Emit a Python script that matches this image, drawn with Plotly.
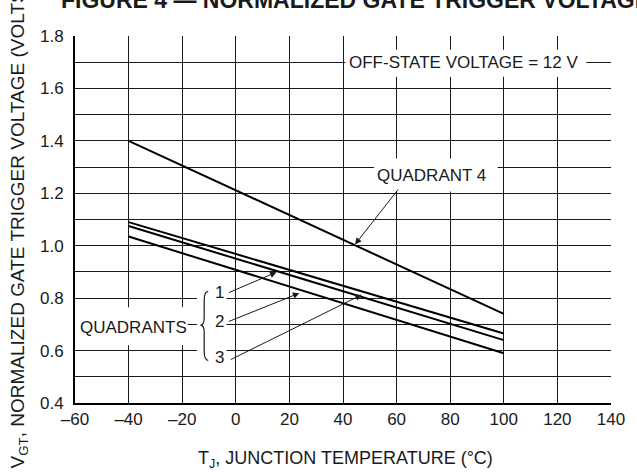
import plotly.graph_objects as go

# data (junction temperature in degC, normalized V_GT)
temps = [-40, 100]
quadrant_4 = [1.40, 0.74]
quadrant_1 = [1.09, 0.665]
quadrant_2 = [1.075, 0.64]
quadrant_3 = [1.035, 0.59]

x_ticks = [-60, -40, -20, 0, 20, 40, 60, 80, 100, 120, 140]
x_labels = ["\u201360", "\u201340", "\u201320", "0", "20", "40", "60", "80", "100", "120", "140"]
y_ticks = [0.4, 0.6, 0.8, 1.0, 1.2, 1.4, 1.6, 1.8]
y_labels = ["0.4", "0.6", "0.8", "1.0", "1.2", "1.4", "1.6", "1.8"]

FONT = "Liberation Sans, Arial, sans-serif"
INK = "#1a1a1a"

fig = go.Figure()
for ys in [quadrant_4, quadrant_1, quadrant_2, quadrant_3]:
    fig.add_trace(
        go.Scatter(
            x=temps, y=ys, mode="lines",
            line={"color": "black", "width": 2},
            showlegend=False, hoverinfo="skip",
        )
    )

# white boxes that break the grid behind the labels
boxes = [
    (40.9, 130.8, 1.645, 1.748),   # off-state voltage
    (51.6, 97.7, 1.207, 1.333),    # quadrant 4
    (-60, -18, 0.62, 0.765),       # quadrants
    (-14.5, -3.5, 0.55, 0.84),     # brace + 1/2/3
]
for x0, x1, y0, y1 in boxes:
    fig.add_shape(
        type="rect", xref="x", yref="y", x0=x0, x1=x1, y0=y0, y1=y1,
        fillcolor="white", line={"width": 0}, layer="between",
    )

# curly brace
fig.add_shape(
    type="path", xref="x", yref="y", layer="above",
    path=(
        "M -10.3,0.826 Q -11.8,0.826 -11.8,0.79 L -11.8,0.725 "
        "Q -11.8,0.697 -13.2,0.697 Q -11.8,0.697 -11.8,0.669 "
        "L -11.8,0.60 Q -11.8,0.5625 -10.3,0.5625"
    ),
    line={"color": INK, "width": 1.2},
)

txt = {"family": FONT, "size": 17, "color": INK}
labels = [
    ("OFF-STATE VOLTAGE = 12 V", 85, 1.7),
    ("QUADRANT 4", 73, 1.268),
    ("QUADRANTS", -38, 0.688),
    ("1", -6.1, 0.823),
    ("2", -6.1, 0.712),
    ("3", -6.1, 0.575),
]
for t, x, y in labels:
    fig.add_annotation(x=x, y=y, text=t, showarrow=False, font=txt)

# leader arrows: (tail x, tail y, head x, head y)
arrows = [
    (61, 1.22, 44.5, 1.005),
    (-3.1, 0.819, 15.2, 0.899),
    (-3.1, 0.709, 23.7, 0.819),
    (-2.5, 0.5625, 47, 0.813),
]
for ax, ay, x, y in arrows:
    fig.add_annotation(
        x=x, y=y, ax=ax, ay=ay, xref="x", yref="y", axref="x", ayref="y",
        text="", showarrow=True, arrowhead=2, arrowsize=1.3,
        arrowwidth=1, arrowcolor=INK, standoff=0,
    )

# axis titles and heading
fig.add_annotation(
    xref="paper", yref="paper", x=0.504, y=-0.154, xanchor="center", yanchor="middle",
    text="T<sub>J</sub>, JUNCTION TEMPERATURE (\u00b0C)", showarrow=False,
    font={"family": FONT, "size": 18, "color": INK},
)
fig.add_annotation(
    xref="paper", yref="paper", x=-0.104, xanchor="center", y=-0.183, yanchor="bottom",
    text="V<sub>GT</sub>, NORMALIZED GATE TRIGGER VOLTAGE (VOLTS)",
    textangle=-90, showarrow=False,
    font={"family": FONT, "size": 19, "color": INK},
)
fig.add_annotation(
    xref="paper", yref="paper", x=-0.029, xanchor="left", y=1.057, yanchor="bottom",
    text="<b>FIGURE 4 \u2014 NORMALIZED GATE TRIGGER VOLTAGE</b>", showarrow=False,
    font={"family": FONT, "size": 23, "color": INK},
)

fig.update_xaxes(
    range=[-60, 140], tickvals=x_ticks, ticktext=x_labels,
    showgrid=True, gridcolor=INK, gridwidth=1,
    showline=True, linecolor="black", linewidth=2, zeroline=False,
    ticks="", ticklabelstandoff=0,
    tickfont={"family": FONT, "size": 17, "color": INK},
)
fig.update_yaxes(
    range=[0.4, 1.8], tickvals=y_ticks, ticktext=y_labels,
    showgrid=True, gridcolor=INK, gridwidth=1,
    minor={"dtick": 0.1, "showgrid": True, "gridcolor": INK, "gridwidth": 1},
    showline=True, linecolor="black", linewidth=2, zeroline=False,
    ticks="", ticklabelstandoff=6,
    tickfont={"family": FONT, "size": 17, "color": INK},
)
fig.update_layout(
    width=637, height=472,
    margin={"l": 75, "r": 16, "t": 36, "b": 69},
    plot_bgcolor="white", paper_bgcolor="white",
)
fig.write_html(
    "out.html",
    config={"displayModeBar": False},
    post_script="document.body.style.margin = '0';",
)
